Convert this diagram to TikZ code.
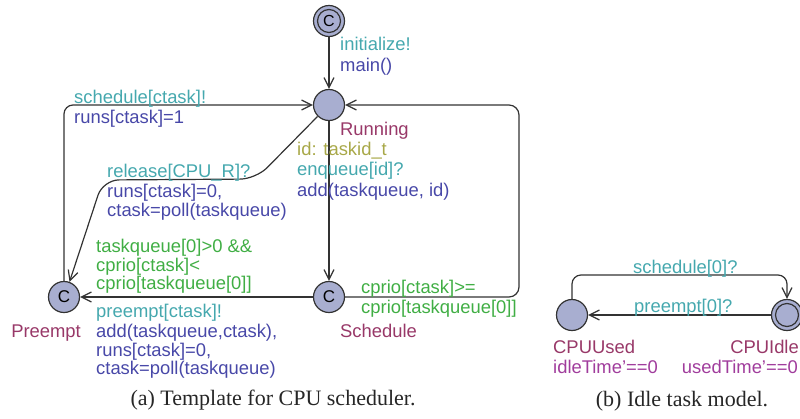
\documentclass[tikz,border=0pt]{standalone}
\usepackage{fontspec}
\setmainfont{Liberation Serif}
\setsansfont{Liberation Sans}
\usetikzlibrary{arrows.meta}

\definecolor{edgegray}{HTML}{333333}
\definecolor{locfill}{HTML}{A8AED0}
\definecolor{synccol}{HTML}{45A8AE}
\definecolor{assigncol}{HTML}{4848A8}
\definecolor{guardcol}{HTML}{40AE44}
\definecolor{selectcol}{HTML}{A8A848}
\definecolor{namecol}{HTML}{983868}
\definecolor{invcol}{HTML}{A03C9C}

\begin{document}
\begin{tikzpicture}[x=1pt,y=-1pt,
  loc/.style={circle, draw=edgegray, fill=locfill, line width=1.2pt,
    minimum size=31pt, inner sep=0pt,
    font=\sffamily\fontsize{17}{17}\selectfont},
  innerring/.style={circle, draw=edgegray, line width=1.2pt, fill=none,
    minimum size=23pt, inner sep=0pt,
    font=\sffamily\fontsize{16}{16}\selectfont},
  trans/.style={draw=edgegray, line width=1.2pt,
    -{Straight Barb[length=10pt, width=10pt, line width=1.2pt]}},
  lab/.style={anchor=base west, inner sep=0pt,
    font=\sffamily\fontsize{18.4}{20}\selectfont},
  sync/.style={lab, text=synccol},
  assign/.style={lab, text=assigncol},
  guard/.style={lab, text=guardcol},
  select/.style={lab, text=selectcol},
  locname/.style={lab, text=namecol},
  inv/.style={lab, text=invcol},
  caption/.style={anchor=base, inner sep=0pt,
    font=\rmfamily\fontsize{22}{24}\selectfont, text=black!85}
]
\useasboundingbox (0,0) rectangle (800,418);

% ---------------- CPU scheduler template ----------------
\node[loc] (init) at (329,21) {};
\node[innerring] (init-in) at (init) {C};
\node[loc] (running) at (329,105) {};
\node[loc] (schedule) at (329,297) {C};
\node[loc] (preempt) at (64,297) {C};

% corner points of the bent transitions
\coordinate (sr-a) at (519,297);
\coordinate (sr-b) at (519,105);
\coordinate (pr-a) at (64,105);
\coordinate (rp-a) at (256,179);
\coordinate (rp-b) at (103,180);

\draw[trans] (init) -- (running);
\draw[trans] (running) -- (schedule);
\draw[trans] (schedule) -- (preempt);
\draw[trans, rounded corners=10pt] (schedule.east) -- (sr-a) -- (sr-b) -- (running.east);
\draw[trans, rounded corners=9pt] (preempt.north) -- (pr-a) -- (running.west);
\draw[trans, rounded corners=16pt] (running.225) -- (rp-a) -- (rp-b) -- (preempt.70);

% location names
\node[locname] (n-running) at (340,135) {Running};
\node[locname] (n-schedule) at (340,337) {Schedule};
\node[locname, anchor=base east] (n-preempt) at (81,337) {Preempt};

% init -> running
\node[sync] (l-init1) at (340,50) {initialize!};
\node[assign] (l-init2) at (340,71) {main()};

% running -> schedule
\node[select] (l-enq1) at (297,155) {id: taskid\_t};
\node[sync] (l-enq2) at (297,175) {enqueue[id]?};
\node[assign] (l-enq3) at (297,196) {add(taskqueue, id)};

% preempt -> running
\node[sync] (l-sch1) at (74,103) {schedule[ctask]!};
\node[assign] (l-sch2) at (74,123) {runs[ctask]=1};

% running -> preempt
\node[sync] (l-rel1) at (107,177) {release[CPU\_R]?};
\node[assign] (l-rel2) at (107,197) {runs[ctask]=0,};
\node[assign] (l-rel3) at (107,216) {ctask=poll(taskqueue)};

% schedule -> preempt
\node[guard] (l-pre1) at (96,252) {taskqueue[0]>0 \&\&};
\node[guard] (l-pre2) at (96,271) {cprio[ctask]<};
\node[guard] (l-pre3) at (96,289) {cprio[taskqueue[0]]};
\node[sync] (l-pre4) at (96,317) {preempt[ctask]!};
\node[assign] (l-pre5) at (96,337) {add(taskqueue,ctask),};
\node[assign] (l-pre6) at (96,356) {runs[ctask]=0,};
\node[assign] (l-pre7) at (96,374) {ctask=poll(taskqueue)};

% schedule -> running
\node[guard] (l-ret1) at (361,293) {cprio[ctask]>=};
\node[guard] (l-ret2) at (361,313) {cprio[taskqueue[0]]};

\node[caption] (cap-a) at (273,405) {(a) Template for CPU scheduler.};

% ---------------- idle task model ----------------
\node[loc] (cpuused) at (572,315) {};
\node[loc] (cpuidle) at (787,315) {};
\node[innerring] (cpuidle-in) at (cpuidle) {};

\coordinate (ui-a) at (572,275);
\coordinate (ui-b) at (787,275);

\draw[trans, rounded corners=9pt] (cpuused.north) -- (ui-a) -- (ui-b) -- (cpuidle.north);
\draw[trans] (cpuidle) -- (cpuused);

\node[sync] (l-idle1) at (633,273) {schedule[0]?};
\node[sync] (l-idle2) at (634,312) {preempt[0]?};

\node[locname] (n-cpuused) at (553,353) {CPUUsed};
\node[inv] (i-cpuused) at (553,373) {idleTime’==0};
\node[locname, anchor=base east] (n-cpuidle) at (799,353) {CPUIdle};
\node[inv, anchor=base east] (i-cpuidle) at (798,373) {usedTime’==0};

\node[caption] (cap-b) at (682,406) {(b) Idle task model.};
\end{tikzpicture}
\end{document}
